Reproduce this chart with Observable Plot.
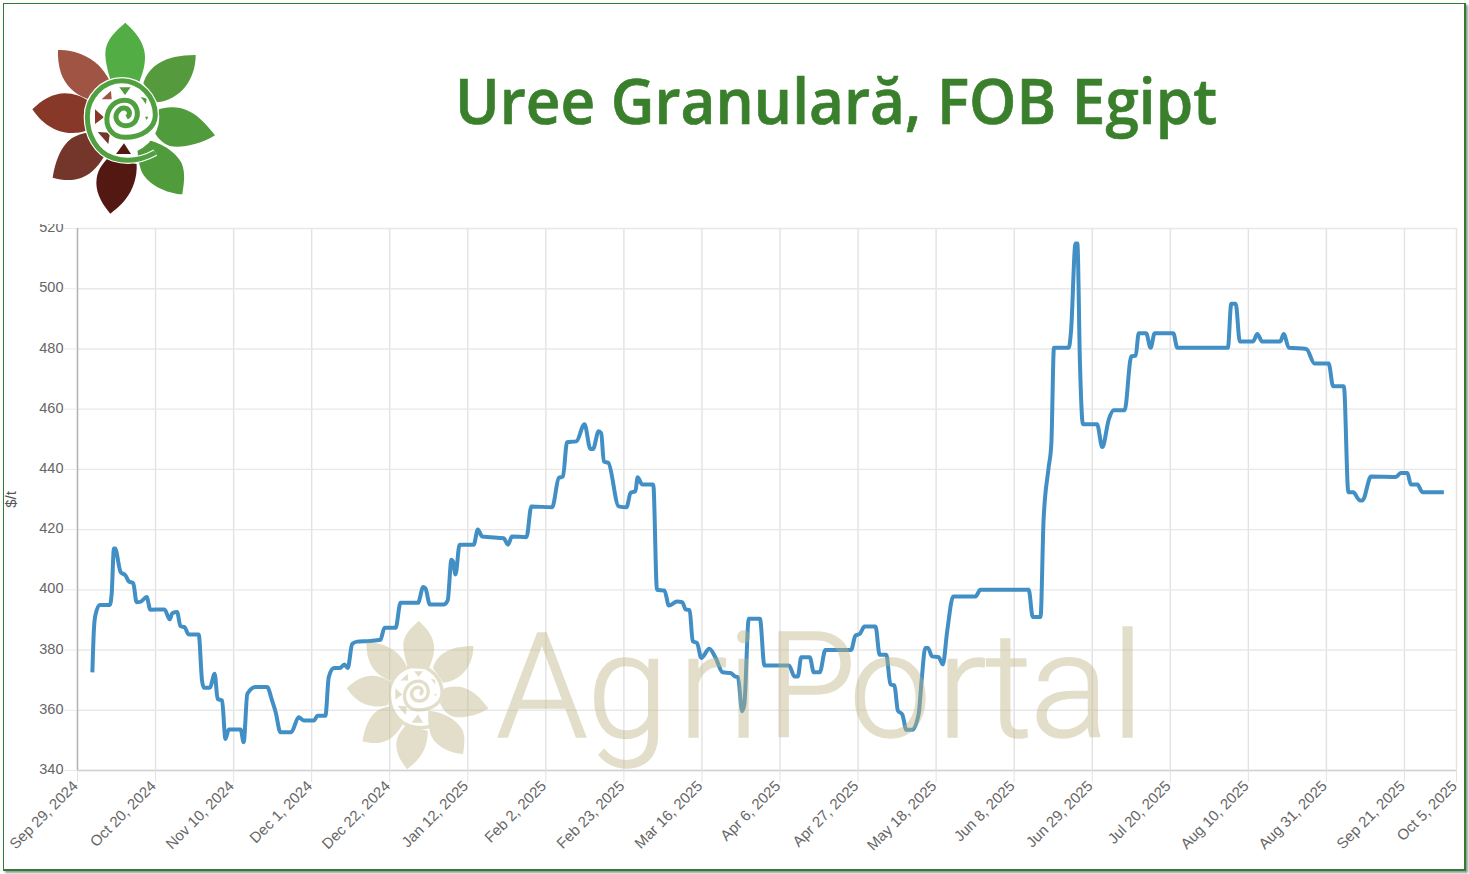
<!DOCTYPE html>
<html>
<head>
<meta charset="utf-8">
<title>Uree Granulară, FOB Egipt</title>
<script src="https://cdn.jsdelivr.net/npm/d3@7"></script>
<script src="https://cdn.jsdelivr.net/npm/@observablehq/plot@0.6"></script>
<style>
html,body{margin:0;padding:0;background:#fff;}
#page{position:relative;width:1469px;height:874px;overflow:hidden;background:#fff;}
#frame{position:absolute;left:3px;top:3px;width:1460px;height:865px;border:solid #2f7d32;border-width:1px 2px 2px 1px;box-shadow:2px 2px 2px #999;z-index:0;}
#chart{position:absolute;left:0;top:0;z-index:1;}
#chart svg{background:transparent;display:block;}
#watermark{position:absolute;left:0;top:0;z-index:2;pointer-events:none;opacity:.42;}
#header{position:absolute;left:5px;top:5px;z-index:3;}
</style>
</head>
<body>
<div id="page">
  <div id="frame"></div>
  <div id="chart"></div>
  <svg id="watermark" width="1469" height="874"></svg>
  <svg id="header" width="1458" height="219"></svg>
</div>
<script>
const startDate = "2024-09-29";
const endDate = "2025-10-05";
const yTicks = [340,360,380,400,420,440,460,480,500,520];
const xTickDates = ["2024-09-29","2024-10-20","2024-11-10","2024-12-01","2024-12-22","2025-01-12","2025-02-02","2025-02-23","2025-03-16","2025-04-06","2025-04-27","2025-05-18","2025-06-08","2025-06-29","2025-07-20","2025-08-10","2025-08-31","2025-09-21","2025-10-05"];
const yTitle = "$/t";
const titleText = "Uree Granulară, FOB Egipt";

// days since Sep 29, 2024
const dayOffsets = [
4.0,4.4,4.8,6.0,8.7,9.2,9.8,10.1,11.6,12.9,
13.8,15.0,15.9,16.9,18.6,19.6,23.4,24.8,25.5,26.8,
27.7,28.8,29.9,32.6,33.5,34.0,35.6,36.9,37.7,38.9,
39.8,40.7,43.9,44.7,45.7,47.9,51.0,52.4,53.3,54.6,
57.5,59.5,60.9,63.6,64.6,66.7,67.6,69.0,70.6,71.8,
72.7,73.9,75.2,78.8,81.5,82.6,85.6,86.9,91.6,93.0,
93.6,94.8,98.5,99.6,100.6,101.0,101.7,102.8,106.6,107.7,
108.9,111.1,114.7,115.8,116.9,120.8,122.1,127.7,129.5,130.6,
131.7,134.2,136.4,138.0,138.7,140.2,140.9,141.6,142.8,145.6,
147.7,148.8,150.1,150.7,151.9,154.9,155.9,157.9,159.1,161.3,
162.7,163.6,164.7,165.5,166.7,167.8,170.0,171.6,173.6,175.7,
176.8,177.7,178.8,179.4,180.6,183.6,184.8,191.4,192.9,193.8,
194.7,197.0,198.1,199.7,201.2,208.1,209.3,210.5,211.7,214.7,
215.8,217.6,218.7,219.8,220.7,221.9,223.0,224.6,226.3,227.1,
228.1,228.8,229.9,231.7,232.8,234.0,235.6,241.6,242.9,255.9,
257.0,259.1,259.9,261.2,262.0,262.7,266.7,267.3,268.5,269.0,
269.7,270.5,274.3,275.7,277.5,278.8,281.7,283.5,284.7,285.5,
287.5,288.7,289.8,294.8,295.9,309.5,310.4,311.6,312.7,316.3,
317.4,318.7,323.6,324.5,325.9,330.6,332.8,336.6,337.8,340.7,
341.9,343.2,345.0,345.7,348.0,354.7,356.0,357.8,358.7,360.5,
361.8,367.6
];
const prices = [
372.6,386.5,391.5,395,395,398.8,413.7,413.7,405.9,404.8,
402.8,402.2,395.9,396,397.6,393.4,393.5,390.2,392.2,392.6,
387.9,387.6,385.2,385.2,369.9,367.5,367.5,372.1,363.8,363.2,
350.5,353.6,353.6,349.4,365.5,367.7,367.7,363,359.4,352.7,
352.7,357.7,356.6,356.6,358.2,358.2,371,374,374,375.2,
374,382,382.8,383,383.4,387.4,387.4,395.7,395.7,400.9,
400.5,395.1,395.1,396.5,410,409.5,405.1,415,415,420,
417.7,417.5,417.1,415,417.7,417.5,427.7,427.4,437.2,437.6,
449,449.3,455,446.8,446.8,452.7,452,442.6,442.2,427.7,
427.4,432.2,432.8,437.4,435,435,400,399.8,394.8,396.1,
395.9,393.5,393.2,383,382.3,377.4,380.4,377.6,372.6,372.4,
371.3,371,359.7,362,390.4,390.4,374.9,374.9,371.2,371.2,
377.6,377.6,372.6,372.6,380,380,384.8,385.4,387.8,387.8,
378.4,378.4,368.6,368.2,359.9,358.6,353.5,353.5,358.8,369.9,
380.7,380.7,377.9,377.6,375.2,386.5,397.8,397.8,400,400,
391,391,423,440,448.6,480.4,480.4,486,515,515,
475,455,455,447.4,456.8,459.6,459.6,477.5,477.8,485.2,
485.2,480.4,485.2,485.2,480.4,480.4,495,495,482.5,482.5,
485,482.5,482.5,485,480.4,480,475.2,475.2,467.6,467.6,
432.4,432.4,429.7,429.7,437.6,437.5,438.8,438.8,435,435,
432.4,432.4
];
if (dayOffsets.length !== prices.length) throw new Error("length mismatch " + dayOffsets.length + " " + prices.length);

const parse = d3.utcParse("%Y-%m-%d");
const t0 = parse(startDate).getTime();
const rows = dayOffsets.map((d, i) => ({date: new Date(t0 + d * 864e5), price: prices[i]}));
const xTicks = xTickDates.map(parse);
const fmt = d3.utcFormat("%b %-d, %Y");
const font = "'Liberation Sans', Arial, sans-serif";

const plot = Plot.plot({
  width: 1469, height: 874,
  marginLeft: 77, marginRight: 13, marginTop: 228, marginBottom: 104,
  style: {background: "transparent", fontFamily: font, overflow: "visible"},
  x: {type: "utc", domain: [parse(startDate), parse(endDate)]},
  y: {domain: [340, 520]},
  marks: [
    Plot.ruleX(xTicks.slice(1), {y1: 340, y2: 520, stroke: "#e2e2e2", strokeWidth: 1.4}),
    Plot.ruleY(yTicks, {stroke: "#e8e8e8", strokeWidth: 1.4}),
    Plot.ruleY([340], {stroke: "#d2d2d2", strokeWidth: 1.4}),
    Plot.ruleX([parse(startDate)], {y1: 340, y2: 520, stroke: "#b4b4b4", strokeWidth: 1.6}),
    Plot.axisX(xTicks, {tickSize: 12, tickFormat: () => "", stroke: "#e2e2e2", label: null}),
    Plot.axisX(xTicks, {tickSize: 0, tickPadding: 13, dx: -2, tickRotate: -45, tickFormat: fmt, fill: "#666", fontSize: 15, label: null}),
    Plot.axisY(yTicks, {tickSize: 13, tickFormat: () => "", stroke: "#e8e8e8", label: null}),
    Plot.axisY(yTicks, {tickSize: 0, tickPadding: 14, dy: -1, fill: "#666", fontSize: 14.5, label: null}),
    Plot.text([yTitle], {frameAnchor: "left", textAnchor: "middle", dx: -66, rotate: -90, fill: "#555", fontSize: 15}),
    Plot.line(rows, {x: "date", y: "price", stroke: "#418FC4", strokeWidth: 4, curve: "monotone-x", strokeLinejoin: "round", strokeLinecap: "butt"})
  ]
});
document.getElementById("chart").appendChild(plot);

// Logo drawing, decoration only (paths in the logo's own 3x space)
const petals = [
 ["M376 68C400 90 435 125 435 170C435 205 425 225 415 255L335 250C320 205 316 180 316 160C316 120 350 90 376 68Z", "#53AD45"],
 ["M587 165C587 240 540 300 470 307L430 250C445 200 490 165 587 165Z", "#559A3C"],
 ["M645 406C600 435 540 445 510 438C490 432 470 415 458 385L472 330C500 318 540 318 570 335C600 350 625 380 645 406Z", "#509B3C"],
 ["M547 583C500 580 445 555 425 515C415 490 410 450 413 415C470 420 525 450 545 490C557 520 552 550 547 583Z", "#509B3C"],
 ["M331 641C300 605 285 570 290 535C295 505 310 490 325 472L410 492C412 530 400 570 375 600C360 618 345 630 331 641Z", "#541812"],
 ["M158 533C165 490 180 440 215 415C235 403 250 400 262 398L315 465C300 490 280 520 245 533C215 545 185 540 158 533Z", "#74352A"],
 ["M97 328C125 300 160 280 195 280C220 280 245 290 262 300L258 392C235 400 205 402 175 392C140 380 115 355 97 328Z", "#873828"],
 ["M174 150C215 148 265 165 295 195C315 215 325 235 328 240L265 298C225 285 195 255 183 220C175 195 173 170 174 150Z", "#A05443"]
];
const triangles = [
 ["M358 262L392 262L375 285Z", "#509B3C"],
 ["M422 290L440 296L438 313Z", "#509B3C"],
 ["M435 350L445 350L440 360Z", "#509B3C"],
 ["M305 298L333 272L335 298Z", "#A05443"],
 ["M285 328L312 352L285 372Z", "#873828"],
 ["M293 396L330 398L325 432Z", "#74352A"],
 ["M348 462L372 430L393 462Z", "#541812"]
];
const spiral = "M466 458C430 478 385 488 340 474C290 458 262 405 262 350C262 290 310 242 366 242C420 242 466 290 466 345C466 385 425 412 375 412C335 412 315 380 322 345C330 310 360 296 385 302C410 310 420 340 405 365C390 382 360 382 350 360C342 340 360 320 378 325C390 330 393 345 380 352";
function logo(g, mono, ringWidth) {
  const c = col => mono || col;
  g.innerHTML =
    petals.map(p => `<path d="${p[0]}" fill="${c(p[1])}"/>`).join("") +
    `<circle cx="365" cy="350" r="113" fill="#fff"/>` +
    triangles.map(p => `<path d="${p[0]}" fill="${c(p[1])}"/>`).join("") +
    `<path d="${spiral}" fill="none" stroke="#fff" stroke-width="${ringWidth + 7}"/>` +
    `<path d="${spiral}" fill="none" stroke="${c("#50A03F")}" stroke-width="${ringWidth}"/>`;
}
const ns = "http://www.w3.org/2000/svg";

const wm = document.getElementById("watermark");
const wmColor = "#BDB380";
const wmg = document.createElementNS(ns, "g");
wmg.setAttribute("transform", "translate(321.6 603.4) scale(0.2586)");
logo(wmg, wmColor, 13);
wmg.querySelectorAll('[stroke="#fff"]').forEach(n => n.remove());
wmg.querySelectorAll('[fill="#fff"]').forEach(n => n.remove());
wm.appendChild(wmg);
const wmt = document.createElementNS(ns, "text");
// glyph-by-glyph left positions of the watermark wordmark
wmt.setAttribute("x", "496 587 678 727 766 849 937 985 1030 1111");
wmt.setAttribute("y", 737);
wmt.setAttribute("style", "font-family:Roboto,sans-serif;font-weight:300;font-size:147px;stroke-width:1.5px;stroke:" + wmColor + ";fill:" + wmColor);
wmt.textContent = "AgriPortal";
wm.appendChild(wmt);

const hd = document.getElementById("header");
const hb = document.createElementNS(ns, "rect");
hb.setAttribute("width", 1458); hb.setAttribute("height", 219); hb.setAttribute("fill", "#fff");
hd.appendChild(hb);
const lg = document.createElementNS(ns, "g");
lg.setAttribute("transform", "translate(-5 -5) scale(0.33333)");
logo(lg, null, 15);
hd.appendChild(lg);
const tt = document.createElementNS(ns, "text");
tt.setAttribute("x", 450); tt.setAttribute("y", 119);
tt.setAttribute("textLength", 762); tt.setAttribute("lengthAdjust", "spacingAndGlyphs");
tt.setAttribute("style", "font-family:'Open Sans',sans-serif;font-weight:600;font-size:64px;stroke:#3A7F2C;stroke-width:.7px;fill:#3A7F2C");
tt.textContent = titleText;
hd.appendChild(tt);
</script>
</body>
</html>
